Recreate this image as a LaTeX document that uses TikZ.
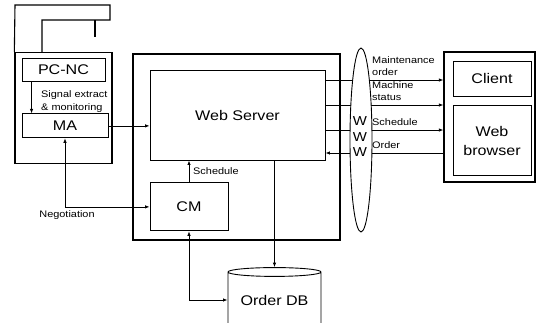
\documentclass[tikz,border=0pt]{standalone}
\usepackage{fontspec}
\setmainfont{Liberation Sans}[FakeStretch=1.15]
\usetikzlibrary{positioning, shapes.geometric, arrows.meta}

\begin{document}
\begin{tikzpicture}[x=1pt,y=-1pt,
		frame/.style={draw,line width=1.3pt,inner sep=0pt},
		unit/.style={draw,line width=0.9pt,inner sep=0pt,align=center,font=\fontsize{14}{19}\selectfont},
		note/.style={inner sep=0pt,align=left,font=\fontsize{9.5}{12.5}\selectfont},
		link/.style={line width=0.8pt,-{Latex[length=4.5pt,width=3.5pt]}},
		linkboth/.style={line width=0.8pt,{Latex[length=4.5pt,width=3.5pt]}-{Latex[length=4.5pt,width=3.5pt]}}]
		\useasboundingbox (0,0) rectangle (536,322);
		\clip (0,0) rectangle (536,322);

		% machine tool with its controller
		\node[frame,minimum width=97pt,minimum height=111pt]							(machine)	at (63.5,108)	{};
		\draw[line width=1.1pt] (machine.north west) -- (15,5) -- (110,5) -- (110,20) -- (42,20) -- (42,52);
		\draw[line width=1.1pt] (95,20) -- (95,37);
		\node[unit,minimum width=83pt,minimum height=23pt]								(pcnc)		at (63.5,69.5)	{PC-NC};
		\node[unit,minimum width=86pt,minimum height=24pt,below=32pt of pcnc.south west,anchor=north west]	(ma)	{MA};
		\node[note,anchor=west]															(signal)	at (41,101.5)	{Signal extract\\\& monitoring};

		% server side
		\node[frame,minimum width=207pt,minimum height=186pt]							(server)	at (236.5,147)	{};
		\node[unit,minimum width=175pt,minimum height=90pt]								(ws)		at (237.5,115)	{Web Server};
		\node[unit,minimum width=78pt,minimum height=48pt,below right=22pt and 0pt of ws.south west]	(cm)	{CM};
		\node[unit,cylinder,shape border rotate=90,aspect=0.13,minimum width=93pt,minimum height=60pt]	(db)	at (274.5,300)	{Order DB};

		% client side
		\node[frame,minimum width=91pt,minimum height=130pt]							(site)		at (489.5,117)	{};
		\node[unit,minimum width=78pt,minimum height=35pt]								(client)	at (492,78.5)	{Client};
		\node[unit,minimum width=78pt,minimum height=70pt,below=9pt of client]			(browser)	{Web\\browser};

		\draw[link] ([xshift=10pt]pcnc.south west) -- ([xshift=10pt]pcnc.south west |- ma.north);
		\draw[link] (ma.east) -- (ma.east -| ws.west);
		\draw[linkboth] (ma.south) |- (cm.west);
		\draw[link] (cm.north) -- (cm.north |- ws.south);
		\draw[linkboth] (cm.south) |- (db.west);
		\draw[link] (db.north |- ws.south) -- (db.north);

		\foreach \dy in {35,10,-15}
			\draw[link] ([yshift=\dy pt]ws.east) -- ([yshift=\dy pt]ws.east -| site.west);
		\draw[link] ([yshift=-38pt]ws.east -| site.west) -- ([yshift=-38pt]ws.east);

		% the internet in between
		\node[draw,ellipse,fill=white,line width=0.9pt,inner sep=0pt,minimum width=22pt,minimum height=184pt]	(www)	at (361,140)	{};
		\node[inner sep=0pt,align=center,font=\fontsize{13}{15.5}\selectfont]			(w)			at (360,137)	{W\\W\\W};

		\node[note,anchor=south west]	(maint)		at (372,76)		{Maintenance\\order};
		\node[note,anchor=south west]	(status)	at (372,101)	{Machine\\status};
		\node[note,anchor=south west]	(sched)		at (372,126)	{Schedule};
		\node[note,anchor=south west]	(order)		at (372,149)	{Order};
		\node[note,anchor=west]			(cmsched)	at (193,171)	{Schedule};
		\node[note]						(nego)		at (67,215)		{Negotiation};
	\end{tikzpicture}
\end{document}
